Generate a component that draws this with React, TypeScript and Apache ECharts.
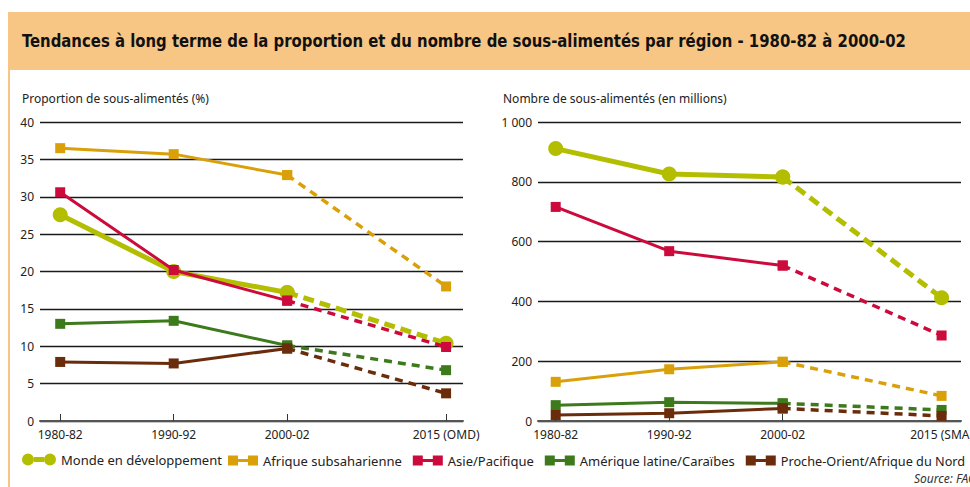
import React, { useEffect, useRef } from "react";
import * as echarts from "echarts";

const periodYears = [1981, 1991, 2001, 2015];
const xLabelsLeft = ["1980-82", "1990-92", "2000-02", "2015 (OMD)"];
const xLabelsRight = ["1980-82", "1990-92", "2000-02", "2015 (SMA)"];

const regions = [
  "Monde en développement",
  "Afrique subsaharienne",
  "Asie/Pacifique",
  "Amérique latine/Caraïbes",
  "Proche-Orient/Afrique du Nord",
];
const colors = ["#B4BE00", "#DAA00A", "#CC0A3C", "#3C7A1C", "#6B2C0C"];

// Proportion of undernourished (%)
const propMonde = [27.6, 20.0, 17.2, 10.4];
const propAfrique = [36.5, 35.7, 32.9, 18.0];
const propAsie = [30.6, 20.2, 16.1, 9.9];
const propAmerique = [13.0, 13.4, 10.1, 6.8];
const propProche = [7.9, 7.7, 9.7, 3.7];

// Number of undernourished (millions)
const nbMonde = [911, 826, 816, 412];
const nbAfrique = [131, 173, 198, 84];
const nbAsie = [716, 568, 520, 286];
const nbAmerique = [53, 63, 59, 37];
const nbProche = [20, 26, 42, 17];

const propSeries = [propMonde, propAfrique, propAsie, propAmerique, propProche];
const nbSeries = [nbMonde, nbAfrique, nbAsie, nbAmerique, nbProche];

const FONT = "'Noto Sans', 'DejaVu Sans', sans-serif";

function buildSeries(values: number[], idx: number, axis: number) {
  const isMonde = idx === 0;
  const color = colors[idx];
  const common = {
    type: "line",
    name: regions[idx],
    xAxisIndex: axis,
    yAxisIndex: axis,
    symbol: isMonde ? "circle" : "rect",
    symbolSize: isMonde ? 15 : 10,
    itemStyle: { color },
    emphasis: { disabled: true },
    z: 2 + idx,
  };
  const solid = {
    ...common,
    data: periodYears.slice(0, 3).map((y, i) => [y, values[i]]),
    lineStyle: { color, width: isMonde ? 5 : 3, type: "solid" },
  };
  const dashed = {
    ...common,
    data: periodYears.slice(2, 4).map((y, i) => [y, values[i + 2]]),
    lineStyle: {
      color,
      width: isMonde ? 5 : 3.5,
      type: isMonde ? [11, 6] : [8, 6],
    },
  };
  return [solid, dashed];
}

function xAxis(gridIndex: number, labels: string[], min: number, max: number) {
  return {
    type: "value",
    gridIndex,
    min,
    max,
    axisLine: { show: true, lineStyle: { color: "#555", width: 2 } },
    axisTick: {
      show: true,
      inside: true,
      length: 7,
      customValues: periodYears,
      lineStyle: { color: "#333", width: 1 },
    },
    axisLabel: {
      customValues: periodYears,
      formatter: (v: number) => labels[periodYears.indexOf(v)] ?? "",
      color: "#222",
      fontSize: 12,
      fontFamily: FONT,
      margin: 7,
    },
    splitLine: { show: false },
  };
}

function yAxis(gridIndex: number, max: number, interval: number, fmt: (v: number) => string) {
  return {
    type: "value",
    gridIndex,
    min: 0,
    max,
    interval,
    axisLine: { show: false },
    axisTick: { show: false },
    axisLabel: { color: "#222", fontSize: 12, fontFamily: FONT, margin: 6, formatter: fmt },
    splitLine: { show: true, lineStyle: { color: "#1a1a1a", width: 1.3 } },
  };
}

const mondeIcon =
  "path://M0,6A6,6 0 1,1 12,6A6,6 0 1,1 0,6Z M12,3.5H22V8.5H12Z M22,6A6,6 0 1,1 34,6A6,6 0 1,1 22,6Z";
const squareIcon = "path://M0,0H10V10H0Z M10,3.5H20V6.5H10Z M20,0H30V10H20Z";

export default function App() {
  const ref = useRef<HTMLDivElement>(null);
  useEffect(() => {
    if (!ref.current) return;
    const chart = echarts.init(ref.current, null, { renderer: "svg" });
    const series: any[] = [];
    propSeries.forEach((v, i) => series.push(...buildSeries(v, i, 0)));
    nbSeries.forEach((v, i) => series.push(...buildSeries(v, i, 1)));
    chart.setOption({
      animation: false,
      backgroundColor: "#ffffff",
      grid: [
        { left: 40, top: 122, width: 423, height: 299 },
        { left: 538, top: 122, width: 423, height: 299 },
      ],
      xAxis: [xAxis(0, xLabelsLeft, 1979.22, 2016.49), xAxis(1, xLabelsRight, 1979.44, 2016.71)],
      yAxis: [
        yAxis(0, 40, 5, (v: number) => String(v)),
        yAxis(1, 1000, 200, (v: number) => (v >= 1000 ? "1 000" : String(v))),
      ],
      legend: [
        {
          data: [regions[0]],
          left: 22,
          top: 453,
          padding: 0,
          icon: mondeIcon,
          itemWidth: 34,
          itemHeight: 12,
          selectedMode: false,
          textStyle: { color: "#222", fontSize: 13, fontFamily: FONT },
        },
        {
          data: [
            { name: regions[1] },
            { name: regions[2] },
            { name: regions[3] },
            { name: regions[4], textStyle: { fontSize: 12.7 } },
          ],
          left: 228,
          top: 454,
          padding: 0,
          icon: squareIcon,
          itemWidth: 30,
          itemHeight: 10,
          itemGap: 11,
          selectedMode: false,
          textStyle: { color: "#222", fontSize: 13, fontFamily: FONT },
        },
      ],
      graphic: [
        { type: "rect", shape: { x: 8, y: 12, width: 1010, height: 58 }, style: { fill: "#F8C684" }, silent: true },
        { type: "rect", shape: { x: 8, y: 70, width: 2, height: 420 }, style: { fill: "#F8C684" }, silent: true },
        {
          type: "text",
          x: 22,
          y: 41,
          scaleX: 0.92,
          style: {
            text: "Tendances à long terme de la proportion et du nombre de sous-alimentés par région - 1980-82 à 2000-02",
            fontSize: 18,
            fontWeight: "bold",
            fontFamily: "'DejaVu Sans Condensed', sans-serif",
            fill: "#111",
            verticalAlign: "middle",
          },
        },
        {
          type: "text",
          x: 22,
          y: 98,
          style: { text: "Proportion de sous-alimentés (%)", fontSize: 12, fontFamily: FONT, fill: "#222", verticalAlign: "middle" },
        },
        {
          type: "text",
          x: 503,
          y: 98,
          style: { text: "Nombre de sous-alimentés (en millions)", fontSize: 12, fontFamily: FONT, fill: "#222", verticalAlign: "middle" },
        },
        {
          type: "text",
          x: 914,
          y: 478,
          style: { text: "Source: FAO", fontSize: 12, fontStyle: "italic", fontFamily: FONT, fill: "#333", verticalAlign: "middle" },
        },
      ],
      series,
    });
    return () => chart.dispose();
  }, []);
  return (
    <div style={{ position: "fixed", left: 0, top: 0, width: 970, height: 487, overflow: "hidden", background: "#fff" }}>
      <div ref={ref} style={{ position: "absolute", left: 0, top: 0, width: 1010, height: 487 }} />
    </div>
  );
}
